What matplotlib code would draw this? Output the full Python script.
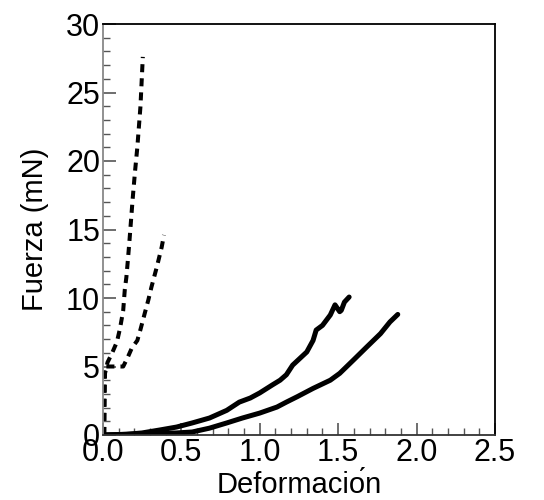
import matplotlib.pyplot as plt
from matplotlib.ticker import MultipleLocator

plt.rcParams['font.family'] = ['Liberation Sans', 'DejaVu Sans']

# dashed curves (two steep samples)
xa = [0.010, 0.012, 0.014, 0.03, 0.06, 0.09, 0.11, 0.13, 0.14, 0.15, 0.16, 0.17, 0.18, 0.19,
      0.205, 0.22, 0.24, 0.255]
ya = [0.0, 2.5, 4.5, 5.3, 6.0, 6.8, 7.8, 9.1, 10.6, 11.5, 12.8, 14.2, 15.7, 17.2,
      19.2, 21.0, 24.0, 27.6]
xb = [0.005, 0.007, 0.010, 0.03, 0.08, 0.13, 0.16, 0.185, 0.22, 0.24, 0.27, 0.29, 0.31, 0.345, 0.375, 0.39]
yb = [0.0, 2.5, 5.0, 5.0, 5.0, 5.0, 5.7, 6.35, 6.9, 7.7, 9.0, 9.85, 10.8, 12.3, 13.7, 14.6]

# solid curves (two soft samples)
xc = [0.0, 0.15, 0.25, 0.36, 0.47, 0.57, 0.68, 0.79, 0.87, 0.94, 1.00, 1.08, 1.13, 1.17, 1.21,
      1.30, 1.34, 1.36, 1.40, 1.45, 1.48, 1.51, 1.52, 1.54, 1.57]
yc = [0.0, 0.05, 0.15, 0.36, 0.58, 0.88, 1.24, 1.8, 2.4, 2.7, 3.07, 3.65, 4.0, 4.4, 5.1,
      6.06, 6.9, 7.66, 8.0, 8.76, 9.5, 9.0, 9.1, 9.7, 10.07]
xd = [0.0, 0.24, 0.47, 0.57, 0.68, 0.79, 0.89, 1.00, 1.11, 1.17, 1.24, 1.34, 1.45, 1.51, 1.60,
      1.68, 1.77, 1.83, 1.88]
yd = [0.0, 0.08, 0.15, 0.22, 0.5, 0.88, 1.24, 1.6, 2.04, 2.4, 2.8, 3.4, 4.0, 4.5, 5.5,
      6.4, 7.4, 8.25, 8.8]

fig = plt.figure(figsize=(5.44, 5.0), dpi=100)
ax = fig.add_axes([0.189, 0.13, 0.721, 0.822])

dash = (0, (2.0, 1.5))
ax.plot(xa, ya, color='black', lw=2.9, linestyle=dash)
ax.plot(xb, yb, color='black', lw=2.9, linestyle=dash)
ax.plot(xc, yc, color='black', lw=3.6, solid_capstyle='round', solid_joinstyle='round')
ax.plot(xd, yd, color='black', lw=3.6, solid_capstyle='round', solid_joinstyle='round')

ax.set_xlim(0, 2.5)
ax.set_ylim(0, 30)
ax.xaxis.set_major_locator(MultipleLocator(0.5))
ax.xaxis.set_minor_locator(MultipleLocator(0.1))
ax.yaxis.set_major_locator(MultipleLocator(5))
ax.yaxis.set_minor_locator(MultipleLocator(1))
ax.xaxis.set_major_formatter(plt.FormatStrFormatter('%.1f'))

ax.tick_params(which='both', direction='in', labelsize=22, pad=2, colors='#555555', labelcolor='black')
ax.tick_params(which='major', length=9, width=1.2)
ax.tick_params(which='minor', length=5, width=1.0)

ax.spines['left'].set_color('#888888')
for s in ['left', 'bottom', 'top', 'right']:
    ax.spines[s].set_linewidth(1.3)
ax.spines['bottom'].set_color('#333333')

ax.set_xlabel('Deformacio\u0301n', fontsize=21, labelpad=2)
ax.set_ylabel('Fuerza (mN)', fontsize=21, labelpad=12)

fig.savefig('out.png', dpi=100)
